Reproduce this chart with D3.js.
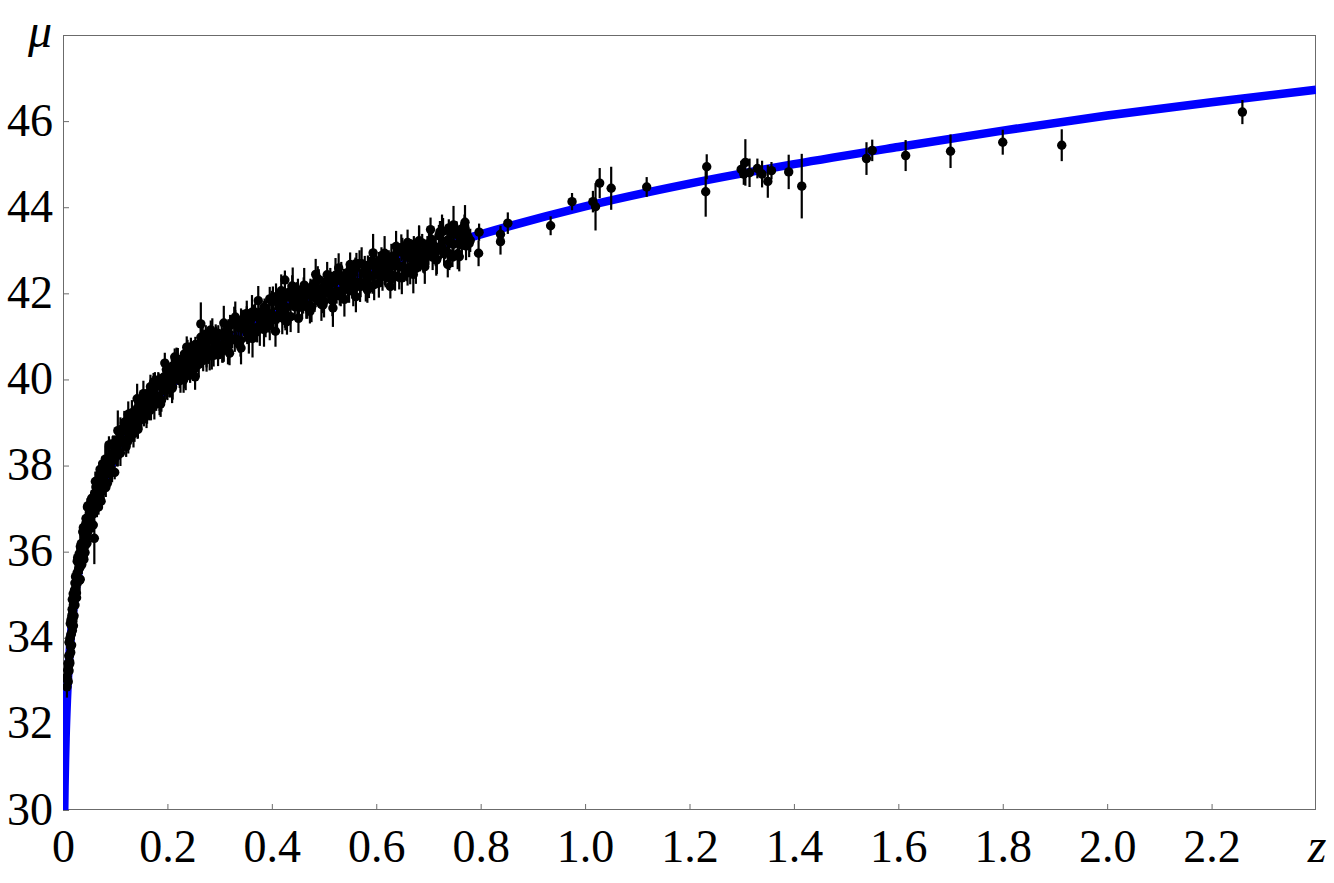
<!DOCTYPE html>
<html>
<head>
<meta charset="utf-8">
<script src="https://cdn.jsdelivr.net/npm/d3@7"></script>
<style>
  body { margin: 0; background: #fff; }
</style>
</head>
<body>
<svg id="chart" width="1334" height="883"></svg>
<script>
// fitted distance-modulus curve
const fitZ  = [0.0015, 0.002, 0.003, 0.004, 0.005, 0.0075, 0.01, 0.015, 0.02, 0.03, 0.04, 0.05, 0.07, 0.1, 0.15, 0.2, 0.3, 0.4, 0.5, 0.6, 0.7, 0.8, 1.0, 1.2, 1.4, 1.6, 1.8, 2.0, 2.2, 2.4];
const fitMu = [29.04, 29.67, 30.55, 31.17, 31.66, 32.54, 33.16, 34.04, 34.67, 35.55, 36.18, 36.67, 37.40, 38.17, 39.10, 39.79, 40.78, 41.51, 42.09, 42.58, 43.00, 43.37, 44.02, 44.55, 45.00, 45.40, 45.78, 46.13, 46.44, 46.73];

// supernovae: [z, mu, error]
const nearbySN = [
  [0.0075,32.86,0.25],[0.008,33.10,0.30],[0.0085,33.02,0.20],[0.009,33.25,0.22],[0.0095,33.40,0.26],
  [0.010,32.98,0.17],[0.0105,33.33,0.24],[0.011,33.58,0.14],[0.0115,33.23,0.21],[0.012,33.90,0.30],
  [0.0125,33.59,0.16],[0.013,33.40,0.19],[0.0135,33.98,0.23],[0.014,34.33,0.15],[0.0145,33.79,0.27],
  [0.015,34.07,0.18],[0.0155,34.42,0.20],[0.016,34.09,0.25],[0.0165,33.83,0.16],[0.017,34.52,0.22],
  [0.0175,34.66,0.18],[0.018,34.17,0.22],[0.0185,34.63,0.15],[0.019,34.44,0.26],[0.0195,35.02,0.20],
  [0.020,34.28,0.17],[0.021,34.86,0.24],[0.022,35.11,0.14],[0.023,34.76,0.21],[0.024,35.42,0.30],
  [0.025,35.11,0.16],[0.026,34.93,0.19],[0.027,35.51,0.23],[0.028,35.86,0.15],[0.029,35.32,0.27],
  [0.030,35.60,0.18],[0.031,35.95,0.20],[0.032,35.62,0.25],[0.033,35.36,0.16],[0.034,36.06,0.22],
  [0.035,36.19,0.18],[0.036,35.70,0.22],[0.037,36.16,0.15],[0.038,35.97,0.26],[0.039,36.56,0.20],
  [0.040,35.82,0.17],[0.041,36.34,0.24],[0.042,36.55,0.14],[0.043,36.15,0.21],[0.044,36.77,0.30],
  [0.045,36.42,0.16],[0.046,36.20,0.19],[0.047,36.75,0.23],[0.048,37.07,0.15],[0.050,36.54,0.27],
  [0.052,36.83,0.18],[0.054,37.19,0.20],[0.056,36.87,0.25],[0.058,36.62,0.16],[0.061,37.36,0.22],
  [0.063,37.50,0.18],[0.065,37.02,0.22],[0.067,37.49,0.15],[0.069,37.31,0.26],[0.071,37.91,0.20],
  [0.073,37.17,0.17],[0.075,37.70,0.24],[0.077,37.91,0.14],[0.079,37.52,0.21],[0.081,38.15,0.30],
  [0.083,37.80,0.16],[0.085,37.59,0.19],[0.087,38.14,0.23],[0.089,38.47,0.15],[0.091,37.90,0.27],
  [0.093,38.15,0.18],[0.095,38.48,0.20],[0.097,38.12,0.25],[0.099,37.84,0.16],[0.0995,38.48,0.22],
  [0.060,36.31,0.60],[0.105,38.81,0.47]
];

const nearbySN2 = [
  [0.0108,33.25,0.24],[0.0118,33.89,0.18],[0.0128,33.44,0.30],[0.0138,34.00,0.15],[0.0148,33.66,0.22],
  [0.0158,34.40,0.27],[0.0168,34.27,0.17],[0.0178,34.89,0.20],[0.0188,34.38,0.32],[0.0198,34.76,0.16],
  [0.0212,34.51,0.25],[0.0228,35.27,0.19],[0.0242,35.14,0.28],[0.0258,35.04,0.14],[0.0272,35.78,0.23],
  [0.0288,35.37,0.21],[0.0302,35.79,0.26],[0.0318,35.33,0.18],[0.0332,36.12,0.29],[0.0348,35.91,0.20],
  [0.0362,35.91,0.24],[0.0378,36.46,0.18],[0.0392,35.91,0.30],[0.0408,36.40,0.15],[0.0422,35.98,0.22],
  [0.0438,36.66,0.27],[0.0452,36.46,0.17],[0.0468,37.04,0.20],[0.0485,36.49,0.32],[0.051,36.86,0.16],
  [0.053,36.55,0.25],[0.055,37.24,0.19],[0.057,37.06,0.28],[0.059,36.89,0.14],[0.062,37.63,0.23],
  [0.064,37.16,0.21],[0.066,37.55,0.26],[0.068,37.04,0.18],[0.070,37.80,0.29],[0.072,37.55,0.20],
  [0.074,37.53,0.24],[0.076,38.04,0.18],[0.078,37.47,0.30],[0.080,37.93,0.15],[0.082,37.49,0.22],
  [0.084,38.14,0.27],[0.086,37.93,0.17],[0.088,38.48,0.20],[0.090,37.90,0.32],[0.092,38.21,0.16],
  [0.094,37.86,0.25],[0.096,38.51,0.19],[0.098,38.30,0.28]
];

const sdssSN = [
  [0.1025,38.49,0.20],[0.105,38.24,0.26],[0.1075,38.53,0.17],[0.110,38.29,0.30],[0.1125,38.81,0.22],
  [0.115,38.58,0.19],[0.1175,38.99,0.28],[0.120,38.60,0.16],[0.1225,38.81,0.24],[0.125,38.62,0.34],
  [0.1275,39.05,0.21],[0.130,38.84,0.25],[0.1325,39.23,0.18],[0.135,38.74,0.32],[0.1375,39.14,0.23],
  [0.140,39.08,0.27],[0.1425,39.33,0.20],[0.145,39.07,0.29],[0.1475,39.37,0.19],[0.150,39.07,0.24],
  [0.1525,39.43,0.20],[0.155,39.17,0.26],[0.1575,39.43,0.17],[0.160,39.17,0.30],[0.1625,39.68,0.22],
  [0.165,39.43,0.19],[0.1675,39.83,0.28],[0.170,39.42,0.16],[0.1725,39.62,0.24],[0.175,39.41,0.34],
  [0.1775,39.84,0.21],[0.180,39.61,0.25],[0.1825,39.99,0.18],[0.185,39.49,0.32],[0.1875,39.88,0.23],
  [0.190,39.81,0.27],[0.1925,40.05,0.20],[0.195,39.77,0.29],[0.1975,40.07,0.19],[0.200,39.76,0.24],
  [0.2025,40.11,0.20],[0.205,39.84,0.26],[0.2075,40.10,0.17],[0.210,39.83,0.30],[0.2125,40.33,0.22],
  [0.215,40.08,0.19],[0.2175,40.46,0.28],[0.220,40.05,0.16],[0.2225,40.24,0.24],[0.225,40.03,0.34],
  [0.2275,40.44,0.21],[0.230,40.21,0.25],[0.2325,40.59,0.18],[0.235,40.07,0.32],[0.2375,40.46,0.23],
  [0.240,40.38,0.27],[0.2425,40.62,0.20],[0.245,40.33,0.29],[0.2475,40.62,0.19],[0.250,40.30,0.24],
  [0.2525,40.65,0.20],[0.255,40.37,0.26],[0.2575,40.63,0.17],[0.260,40.35,0.30],[0.2625,40.84,0.22],
  [0.265,40.59,0.19],[0.2675,40.97,0.28],[0.270,40.55,0.16],[0.2725,40.73,0.24],[0.275,40.52,0.34],
  [0.2775,40.93,0.21],[0.280,40.69,0.25],[0.2825,41.06,0.18],[0.285,40.55,0.32],[0.2875,40.93,0.23],
  [0.290,40.85,0.27],[0.2925,41.08,0.20],[0.295,40.79,0.29],[0.2975,41.07,0.19],[0.300,40.75,0.24],
  [0.125,39.19,0.30],[0.142,39.55,0.35],[0.195,40.38,0.24],[0.214,40.52,0.20],[0.237,40.75,0.25],
  [0.253,40.06,0.30],[0.264,41.29,0.50],[0.283,41.15,0.22]
];

const sdssSN2 = [
  [0.1035,38.24,0.26],[0.1085,38.75,0.19],[0.1135,38.56,0.31],[0.1185,39.01,0.22],[0.1235,38.55,0.17],
  [0.1285,39.00,0.28],[0.1335,38.79,0.24],[0.1385,39.25,0.35],[0.1435,38.84,0.20],[0.1485,39.30,0.27],
  [0.1535,39.59,0.18],[0.1585,39.28,0.30],[0.1635,39.61,0.23],[0.1685,39.30,0.25],[0.1735,39.94,0.21],
  [0.1785,39.60,0.33],[0.1835,39.95,0.19],[0.1885,39.51,0.26],[0.1935,39.92,0.29],[0.1985,39.76,0.22],
  [0.2035,39.85,0.26],[0.2085,40.30,0.19],[0.2135,40.07,0.31],[0.2185,40.47,0.22],[0.2235,39.97,0.17],
  [0.2285,40.38,0.28],[0.2335,40.14,0.24],[0.2385,40.57,0.35],[0.2435,40.12,0.20],[0.2485,40.55,0.27],
  [0.2535,40.81,0.18],[0.2585,40.47,0.30],[0.2635,40.77,0.23],[0.2685,40.44,0.25],[0.2735,41.05,0.21],
  [0.2785,40.69,0.33],[0.2835,41.01,0.19],[0.2885,40.56,0.26],[0.2935,40.94,0.29],[0.2985,40.76,0.22]
];

const snlsSN = [
  [0.304,41.03,0.22],[0.308,40.71,0.30],[0.312,40.98,0.18],[0.316,40.69,0.34],[0.320,41.25,0.25],
  [0.324,40.93,0.20],[0.328,41.38,0.31],[0.332,40.93,0.17],[0.336,41.20,0.27],[0.340,40.91,0.38],
  [0.344,41.38,0.23],[0.348,41.16,0.28],[0.352,41.51,0.19],[0.356,40.96,0.36],[0.360,41.39,0.26],
  [0.364,41.20,0.29],[0.368,41.56,0.21],[0.372,41.19,0.33],[0.376,41.42,0.24],[0.380,41.34,0.27],
  [0.384,41.60,0.22],[0.388,41.28,0.30],[0.392,41.55,0.18],[0.396,41.25,0.34],[0.400,41.81,0.25],
  [0.404,41.48,0.20],[0.408,41.92,0.31],[0.412,41.47,0.17],[0.416,41.73,0.27],[0.420,41.43,0.38],
  [0.424,41.89,0.23],[0.428,41.67,0.28],[0.432,42.02,0.19],[0.436,41.46,0.36],[0.440,41.88,0.26],
  [0.444,41.69,0.29],[0.448,42.05,0.21],[0.452,41.67,0.33],[0.456,41.88,0.24],[0.460,41.80,0.27],
  [0.464,42.05,0.22],[0.468,41.71,0.30],[0.472,41.97,0.18],[0.476,41.67,0.34],[0.480,42.22,0.25],
  [0.484,41.88,0.20],[0.488,42.32,0.31],[0.492,41.86,0.17],[0.496,42.12,0.27],[0.500,41.82,0.38],
  [0.504,42.28,0.23],[0.508,42.05,0.28],[0.512,42.40,0.19],[0.516,41.83,0.36],[0.520,42.25,0.26],
  [0.524,42.05,0.29],[0.528,42.41,0.21],[0.532,42.03,0.33],[0.536,42.25,0.24],[0.540,42.16,0.27],
  [0.544,42.41,0.22],[0.548,42.08,0.30],[0.552,42.34,0.18],[0.556,42.04,0.34],[0.560,42.58,0.25],
  [0.564,42.25,0.20],[0.568,42.69,0.31],[0.572,42.23,0.17],[0.576,42.49,0.27],[0.580,42.19,0.38],
  [0.584,42.65,0.23],[0.588,42.41,0.28],[0.592,42.76,0.19],[0.596,42.20,0.36],[0.600,42.62,0.26],
  [0.604,42.42,0.29],[0.608,42.77,0.21],[0.612,42.39,0.33],[0.616,42.61,0.24],[0.620,42.53,0.27],
  [0.624,42.78,0.22],[0.628,42.45,0.30],[0.632,42.71,0.18],[0.636,42.40,0.34],[0.640,42.95,0.25],
  [0.644,42.62,0.20],[0.648,43.06,0.31],[0.652,42.60,0.17],[0.656,42.86,0.27],[0.660,42.56,0.38],
  [0.664,43.01,0.23],[0.668,42.79,0.28],[0.672,43.14,0.19],[0.676,42.58,0.36],[0.680,43.00,0.26],
  [0.684,42.80,0.29],[0.688,43.17,0.21],[0.692,42.79,0.33],[0.696,43.01,0.24],[0.700,42.93,0.27],
  [0.704,43.17,0.22],[0.708,42.84,0.30],[0.712,43.09,0.18],[0.716,42.79,0.34],[0.720,43.34,0.25],
  [0.724,43.00,0.20],[0.728,43.44,0.31],[0.732,42.97,0.17],[0.736,43.23,0.27],[0.740,42.92,0.38],
  [0.744,43.38,0.23],[0.748,43.14,0.28],[0.752,43.49,0.19],[0.756,42.92,0.36],[0.760,43.33,0.26],
  [0.764,43.13,0.29],[0.768,43.48,0.21],[0.772,43.10,0.33],[0.776,43.31,0.24],[0.780,43.23,0.27],
  [0.425,42.31,0.22],[0.439,42.17,0.25],[0.628,42.33,0.25],[0.644,42.37,0.28],[0.739,43.52,0.20],
  [0.769,43.58,0.25],[0.797,43.42,0.20],[0.796,42.93,0.30]
];

const snlsSN2 = [
  [0.306,40.67,0.28],[0.314,41.13,0.21],[0.322,40.95,0.35],[0.330,41.37,0.24],[0.338,40.81,0.19],
  [0.346,41.31,0.31],[0.354,41.09,0.26],[0.362,41.56,0.40],[0.370,41.10,0.22],[0.378,41.45,0.29],
  [0.386,41.68,0.20],[0.394,41.42,0.33],[0.402,41.91,0.25],[0.410,41.42,0.27],[0.418,41.74,0.37],
  [0.426,41.37,0.23],[0.434,41.91,0.30],[0.442,41.78,0.18],[0.450,42.08,0.26],[0.458,41.74,0.32],
  [0.466,41.69,0.28],[0.474,42.13,0.21],[0.482,41.92,0.35],[0.490,42.32,0.24],[0.498,41.73,0.19],
  [0.506,42.21,0.31],[0.514,41.96,0.26],[0.522,42.42,0.40],[0.530,41.94,0.22],[0.538,42.28,0.29],
  [0.546,42.49,0.20],[0.554,42.21,0.33],[0.562,42.69,0.25],[0.570,42.18,0.27],[0.578,42.50,0.37],
  [0.586,42.12,0.23],[0.594,42.65,0.30],[0.602,42.51,0.18],[0.610,42.81,0.26],[0.618,42.46,0.32],
  [0.626,42.42,0.28],[0.634,42.86,0.21],[0.642,42.65,0.35],[0.650,43.05,0.24],[0.658,42.47,0.19],
  [0.666,42.95,0.31],[0.674,42.71,0.26],[0.682,43.18,0.40],[0.690,42.70,0.22],[0.698,43.04,0.29],
  [0.706,43.25,0.20],[0.714,42.96,0.33],[0.722,43.43,0.25],[0.730,42.92,0.27],[0.738,43.23,0.37],
  [0.746,42.84,0.23],[0.754,43.37,0.30],[0.762,43.22,0.18],[0.770,43.51,0.26],[0.778,43.16,0.32]
];

// wider-scatter objects spread through the intermediate-redshift cloud
const essenceSN = [
  [0.110,38.82,0.30],[0.121,38.44,0.24],[0.132,39.18,0.34],[0.143,38.88,0.26],[0.154,39.67,0.30],
  [0.165,39.27,0.22],[0.176,39.89,0.28],[0.187,39.43,0.30],[0.198,40.23,0.24],[0.209,39.79,0.34],
  [0.220,40.47,0.26],[0.231,39.99,0.30],[0.242,40.64,0.22],[0.253,40.26,0.28],[0.264,40.98,0.30],
  [0.275,40.52,0.24],[0.286,41.08,0.34],[0.297,40.57,0.26],[0.308,41.31,0.40],[0.319,40.61,0.28],
  [0.330,41.45,0.36],[0.341,40.73,0.38],[0.352,41.53,0.30],[0.363,40.95,0.44],[0.374,41.83,0.34],
  [0.385,41.16,0.40],[0.396,41.87,0.28],[0.407,41.12,0.36],[0.418,42.06,0.38],[0.429,41.34,0.30],
  [0.440,42.16,0.44],[0.451,41.42,0.34],[0.462,42.19,0.40],[0.473,41.58,0.28],[0.484,42.44,0.36],
  [0.495,41.74,0.38],[0.506,42.43,0.30],[0.517,41.66,0.44],[0.528,42.59,0.34],[0.539,41.86,0.40],
  [0.550,42.67,0.28],[0.561,41.92,0.36],[0.572,42.69,0.38],[0.583,42.08,0.30],[0.594,42.94,0.44],
  [0.605,42.24,0.34],[0.616,42.93,0.40],[0.627,42.16,0.28],[0.638,43.09,0.36],[0.649,42.36,0.38],
  [0.660,43.18,0.30],[0.671,42.44,0.44],[0.682,43.22,0.34],[0.693,42.62,0.40],[0.704,43.48,0.28],
  [0.715,42.77,0.36],[0.726,43.45,0.38],[0.737,42.67,0.30],[0.748,43.59,0.44],[0.759,42.85,0.34],
  [0.770,43.65,0.40]
];

const scpSN = [
  [0.125,38.94,0.30],[0.137,38.91,0.36],[0.149,39.45,0.26],[0.161,39.37,0.40],[0.173,39.76,0.32],
  [0.185,39.55,0.28],[0.197,39.96,0.30],[0.209,39.97,0.36],[0.221,40.30,0.26],[0.233,40.19,0.40],
  [0.245,40.65,0.32],[0.257,40.51,0.28],[0.269,40.84,0.30],[0.281,40.57,0.36],[0.293,40.93,0.26],
  [0.305,40.79,0.40],[0.317,41.08,0.32],[0.329,40.92,0.28],[0.341,41.35,0.30],[0.353,41.18,0.36],
  [0.365,41.48,0.26],[0.377,41.18,0.40],[0.389,41.52,0.32],[0.401,41.47,0.28],[0.413,41.73,0.30],
  [0.425,41.56,0.36],[0.437,41.97,0.26],[0.449,41.77,0.40],[0.461,42.05,0.32],[0.473,41.72,0.28],
  [0.485,42.03,0.30],[0.497,41.95,0.36],[0.509,42.20,0.26],[0.521,42.02,0.40],[0.533,42.41,0.32],
  [0.545,42.21,0.28],[0.557,42.48,0.30],[0.569,42.16,0.36],[0.581,42.47,0.26],[0.593,42.39,0.40],
  [0.605,42.64,0.32],[0.617,42.46,0.28],[0.629,42.85,0.30],[0.641,42.65,0.36],[0.653,42.93,0.26],
  [0.665,42.61,0.40],[0.677,42.93,0.32],[0.689,42.85,0.28],[0.701,43.11,0.30]
];

const hstSN = [
  [0.838,43.37,0.20],[0.838,43.20,0.30],[0.852,43.63,0.25],[0.934,43.57,0.22],[0.975,44.13,0.20],
  [1.015,44.13,0.25],[1.020,44.01,0.55],[1.028,44.56,0.35],[1.050,44.44,0.50],[1.118,44.47,0.23],
  [1.233,44.94,0.29],[1.231,44.36,0.58],[1.299,44.88,0.20],[1.307,45.04,0.54],[1.304,44.77,0.25],
  [1.315,44.80,0.33],[1.330,44.90,0.23],[1.339,44.77,0.31],[1.350,44.60,0.38],[1.357,44.85,0.20],
  [1.390,44.82,0.40],[1.415,44.49,0.75],[1.539,45.13,0.38],[1.550,45.32,0.25],[1.614,45.20,0.36],
  [1.700,45.30,0.39],[1.800,45.51,0.29],[1.913,45.44,0.37],[2.259,46.21,0.28]
];

const xTicks = [0, 0.2, 0.4, 0.6, 0.8, 1.0, 1.2, 1.4, 1.6, 1.8, 2.0, 2.2];
const xTickLabels = ['0', '0.2', '0.4', '0.6', '0.8', '1.0', '1.2', '1.4', '1.6', '1.8', '2.0', '2.2'];
const yTicks = [30, 32, 34, 36, 38, 40, 42, 44, 46];

const plotLeft = 63, plotRight = 1316, plotTop = 35, plotBottom = 810;
const frameColor = '#6b6b6b';
const labelFont = 'Liberation Serif';

const svg = d3.select('#chart');

const x = d3.scaleLinear().domain([0, 2.4]).range([plotLeft, plotRight]);
const y = d3.scaleLinear().domain([30, 48]).range([plotBottom, plotTop]);

svg.append('defs').append('clipPath').attr('id', 'plot-clip')
  .append('rect')
  .attr('x', plotLeft).attr('y', plotTop)
  .attr('width', plotRight - plotLeft).attr('height', plotBottom - plotTop);

// axes, ticks pointing inward
const xAxis = svg.append('g')
  .attr('transform', `translate(0,${plotBottom})`)
  .call(d3.axisBottom(x)
    .tickValues(xTicks)
    .tickSize(-6)
    .tickFormat((d, i) => xTickLabels[i]));

const yAxis = svg.append('g')
  .attr('transform', `translate(${plotLeft},0)`)
  .call(d3.axisLeft(y)
    .tickValues(yTicks)
    .tickSize(-6)
    .tickFormat(d => String(d)));

[xAxis, yAxis].forEach(g => {
  g.attr('font-family', labelFont).attr('font-size', 46);
  g.select('.domain').remove();
  g.selectAll('.tick line').attr('stroke', frameColor).attr('stroke-width', 1);
  g.selectAll('.tick text').attr('fill', '#000');
});

xAxis.selectAll('.tick text').attr('dy', null).attr('y', 52);
yAxis.selectAll('.tick text').attr('dy', null).attr('x', -10).attr('y', 14);

// frame
svg.append('rect')
  .attr('x', plotLeft + 0.5).attr('y', plotTop + 0.5)
  .attr('width', plotRight - plotLeft - 1).attr('height', plotBottom - plotTop - 1)
  .attr('fill', 'none')
  .attr('stroke', frameColor)
  .attr('stroke-width', 1);

// model curve
const curveLine = d3.line()
  .x((d, i) => x(fitZ[i]))
  .y(d => y(d))
  .curve(d3.curveMonotoneX);

svg.append('path')
  .attr('clip-path', 'url(#plot-clip)')
  .attr('d', curveLine(fitMu))
  .attr('fill', 'none')
  .attr('stroke', '#0000ff')
  .attr('stroke-width', 8.5);

// data points with error bars
const allSN = [...nearbySN, ...nearbySN2, ...sdssSN, ...sdssSN2, ...snlsSN, ...snlsSN2,
  ...essenceSN, ...scpSN, ...hstSN];
const points = svg.append('g').attr('clip-path', 'url(#plot-clip)');

points.selectAll('line')
  .data(allSN)
  .join('line')
  .attr('x1', d => x(d[0])).attr('x2', d => x(d[0]))
  .attr('y1', d => y(d[1] - d[2])).attr('y2', d => y(d[1] + d[2]))
  .attr('stroke', '#000')
  .attr('stroke-width', 2.2);

points.selectAll('circle')
  .data(allSN)
  .join('circle')
  .attr('cx', d => x(d[0]))
  .attr('cy', d => y(d[1]))
  .attr('r', 4.7)
  .attr('fill', '#000');

// axis names
svg.append('text')
  .attr('x', 40).attr('y', 47)
  .attr('text-anchor', 'middle')
  .attr('font-family', labelFont)
  .attr('font-size', 48)
  .attr('font-style', 'italic')
  .text('μ');

svg.append('text')
  .attr('x', 1317).attr('y', 862)
  .attr('text-anchor', 'middle')
  .attr('font-family', labelFont)
  .attr('font-size', 48)
  .attr('font-style', 'italic')
  .text('z');
</script>
</body>
</html>
